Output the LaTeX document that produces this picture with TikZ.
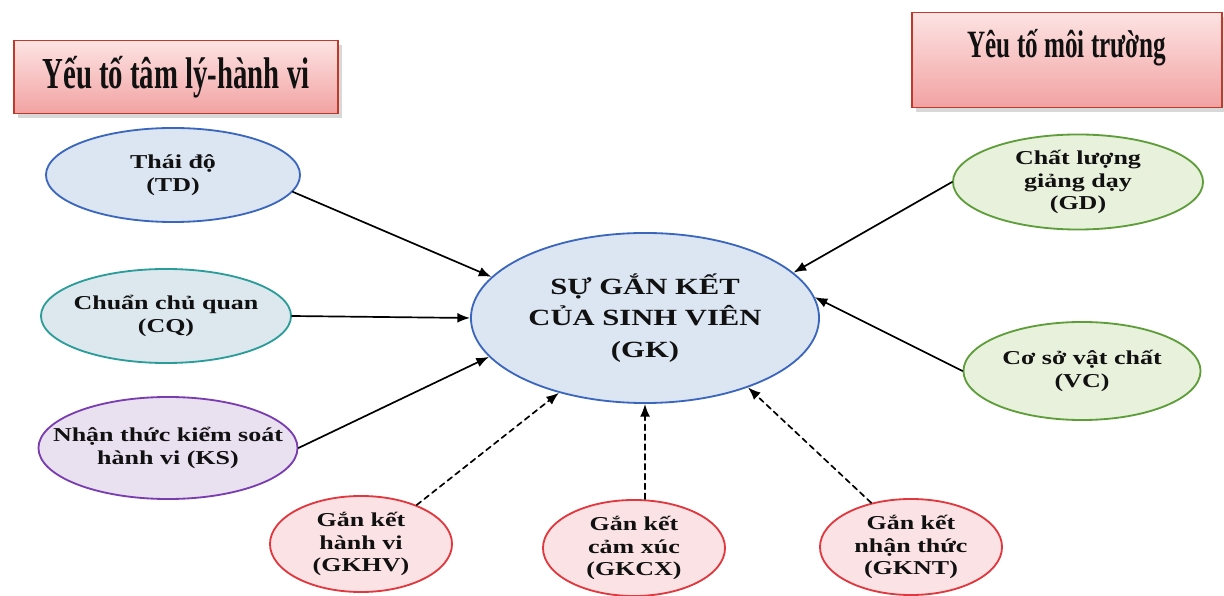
\documentclass[tikz,border=0pt]{standalone}
\usepackage{fontspec}
\setmainfont{Liberation Serif}
\newfontfamily\ellfont[FakeStretch=1.32]{Liberation Serif}
\newfontfamily\headfont[FakeStretch=0.65]{Liberation Serif}
\usetikzlibrary{arrows.meta,shapes.geometric,shadows}
\definecolor{boxred}{HTML}{C0392B}
\definecolor{boxtop}{HTML}{FDE3E3}
\definecolor{boxbot}{HTML}{F2A2A2}
\definecolor{blueline}{HTML}{3B66BE}
\definecolor{bluefill}{HTML}{DCE5F2}
\definecolor{tealline}{HTML}{2A9D9A}
\definecolor{tealfill}{HTML}{DDE8EE}
\definecolor{purpline}{HTML}{7A3DB0}
\definecolor{purpfill}{HTML}{E9E0F0}
\definecolor{greenline}{HTML}{5E9E3A}
\definecolor{greenfill}{HTML}{E8F1DC}
\definecolor{redline}{HTML}{E0383E}
\definecolor{redfill}{HTML}{FBE3E5}
\definecolor{ink}{HTML}{111111}

\begin{document}
\begin{tikzpicture}[x=0.025cm,y=-0.025cm,every path/.style={line cap=round}]

        \tikzset{factor/.style = {shape=ellipse,draw,line width=1.3pt,inner xsep=-2cm,inner ysep=0pt,align=center,
                 text=ink,font=\ellfont\bfseries\fontsize{14}{16}\selectfont}}
        \tikzset{header/.style = {draw=boxred,line width=1.2pt,top color=boxtop,bottom color=boxbot,
                 drop shadow={shadow xshift=3pt,shadow yshift=-3pt,fill=black!30},
                 text=ink,font=\headfont\bfseries}}
        \tikzset{edge/.style = {line width=1.2pt,-{Latex[length=9pt,width=7pt]}}}
        \tikzset{dashedge/.style = {edge,dash pattern=on 4pt off 3pt}}

        \useasboundingbox[fill=white] (0,0) rectangle (1224,596);

        % group headers
        \node[header,minimum width=8.1cm,minimum height=1.825cm] (psy) at (176,77)
            {\fontsize{31.5}{33}\selectfont Yếu tố tâm lý-hành vi};
        \node[header,minimum width=7.75cm,minimum height=2.375cm,text depth=0.85cm] (env) at (1067,60)
            {\fontsize{27.5}{29}\selectfont Yêu tố môi trường};

        % centre
        \node[factor,draw=blueline,fill=bluefill,minimum width=8.7cm,minimum height=4.25cm,
              font=\ellfont\bfseries\fontsize{16.5}{22.5}\selectfont] (gk) at (645,318)
            {SỰ GẮN KẾT\\CỦA SINH VIÊN\\(GK)};

        % left factors
        \node[factor,draw=blueline,fill=bluefill,minimum width=6.35cm,minimum height=2.35cm] (td) at (173,175)
            {Thái độ\\(TD)};
        \node[factor,draw=tealline,fill=tealfill,minimum width=6.25cm,minimum height=2.35cm] (cq) at (166,316)
            {Chuẩn chủ quan\\(CQ)};
        \node[factor,draw=purpline,fill=purpfill,minimum width=6.475cm,minimum height=2.55cm] (ks) at (168,448)
            {Nhận thức kiểm soát\\hành vi (KS)};

        % right factors
        \node[factor,draw=greenline,fill=greenfill,minimum width=6.25cm,minimum height=2.375cm] (gd) at (1078,182)
            {Chất lượng\\giảng dạy\\(GD)};
        \node[factor,draw=greenline,fill=greenfill,minimum width=5.925cm,minimum height=2.45cm] (vc) at (1082,371)
            {Cơ sở vật chất\\(VC)};

        % engagement components
        \node[factor,draw=redline,fill=redfill,minimum width=4.55cm,minimum height=2.4cm] (khv) at (361,544)
            {Gắn kết\\hành vi\\(GKHV)};
        \node[factor,draw=redline,fill=redfill,minimum width=4.55cm,minimum height=2.4cm] (kcx) at (634,548)
            {Gắn kết\\cảm xúc\\(GKCX)};
        \node[factor,draw=redline,fill=redfill,minimum width=4.55cm,minimum height=2.4cm] (knt) at (911,547)
            {Gắn kết\\nhận thức\\(GKNT)};

        \draw[edge] (td.-8) -- (gk.165);
        \draw[edge] (cq.east) -- (gk.west);
        \draw[edge] (ks.east) -- (gk.194);
        \draw[edge] (gd.west) -- (gk.17);
        \draw[edge] (vc.west) -- (gk.7);

        \draw[dashedge] (khv.35) -- (gk.221);
        \draw[dashedge] (kcx.north -| gk.south) -- (gk.south);
        \draw[dashedge] (knt.132) -- (gk.-34);
	\end{tikzpicture}
\end{document}
